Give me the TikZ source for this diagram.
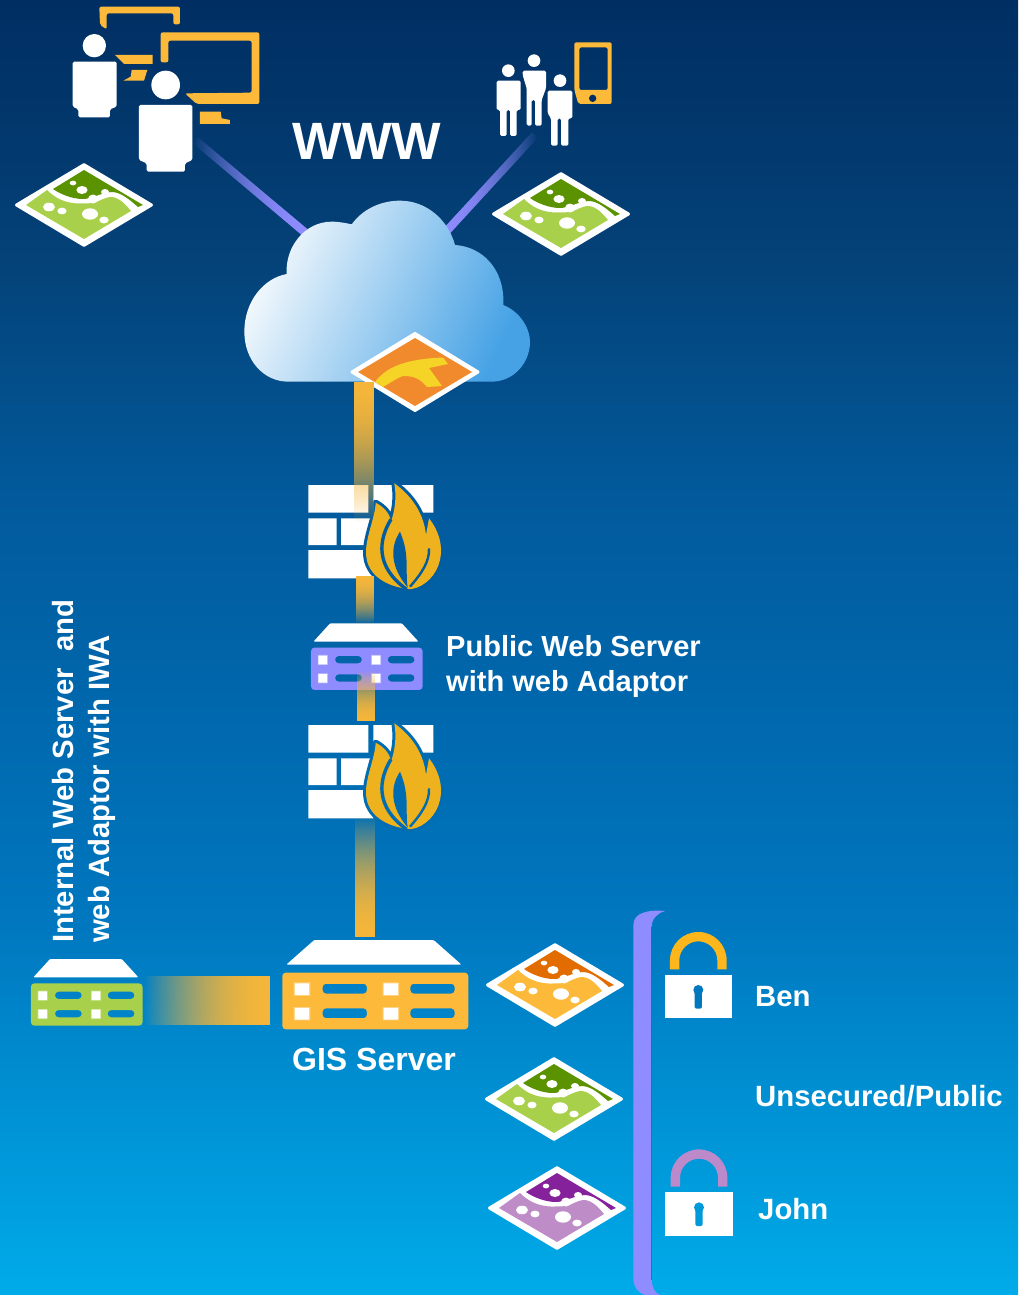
\documentclass[tikz,border=0pt]{standalone}
\usepackage{fontspec}
\setmainfont{Liberation Sans}
\usetikzlibrary{fadings,calc}
\definecolor{bgA}{HTML}{002E62}
\definecolor{bgB}{HTML}{044278}
\definecolor{bgC}{HTML}{025A9C}
\definecolor{bgD}{HTML}{0069AF}
\definecolor{bgE}{HTML}{0078C0}
\definecolor{bgF}{HTML}{0088CC}
\definecolor{bgG}{HTML}{00ABE9}
\definecolor{gold}{HTML}{FDB93A}
\definecolor{barcol}{HTML}{F5B63A}
\definecolor{flamecol}{HTML}{EFB21F}
\definecolor{violetcol}{HTML}{8F8CFF}
\definecolor{grnD}{HTML}{5A9200}
\definecolor{grnL}{HTML}{A9D04A}
\definecolor{orgD}{HTML}{E36C00}
\definecolor{orgL}{HTML}{FDB93A}
\definecolor{purD}{HTML}{85219A}
\definecolor{purL}{HTML}{BE8CC6}
\definecolor{cloudO}{HTML}{F08A2C}
\definecolor{cloudY}{HTML}{F5D327}
\definecolor{cloudA}{HTML}{F6FAFD}
\definecolor{cloudB}{HTML}{46A2E5}
\definecolor{lockG}{HTML}{FDB71C}
\definecolor{lockP}{HTML}{BC8ACB}
\pgfdeclareverticalshading{bgshade}{100bp}{
 color(0bp)=(bgG); color(25bp)=(bgG); color(34.85bp)=(bgF); color(39.1bp)=(bgE);
 color(46.8bp)=(bgD); color(55.7bp)=(bgC); color(64.96bp)=(bgB); color(75bp)=(bgA); color(100bp)=(bgA)}
\tikzfading[name=fadeToBottom, top color=transparent!0, middle color=transparent!65, bottom color=transparent!100]
\tikzfading[name=fadeToTop, bottom color=transparent!0, middle color=transparent!65, top color=transparent!100]
\tikzfading[name=fadeToLeft, right color=transparent!0, middle color=transparent!65, left color=transparent!100]
\tikzfading[name=linkToRight, left color=transparent!0, middle color=transparent!70, right color=transparent!100]
\tikzfading[name=linkToLeft, right color=transparent!0, middle color=transparent!70, left color=transparent!100]
\tikzset{
 txt/.style={text=white, inner sep=0pt, font=\fontsize{29.3}{33}\selectfont\bfseries},
 pubtxt/.style={txt, font=\fontsize{29.05}{33}\selectfont\bfseries},
 barstyle/.style={fill=barcol},
 linkstyle/.style={fill=violetcol},
 brick/.style={fill=white},
 personfill/.style={fill=white, rounded corners=1.5pt},
 goldfill/.style={fill=gold}
}
% faded bar between two named corners: first corner, second corner, fading
\newcommand\barlink[3]{%
 \fill[barstyle,path fading=#3] (#1) rectangle (#2);
 \fill[barstyle,path fading=#3] (#1) rectangle (#2);}
% faded slanted link between two named ends: from, to, fading
\newcommand\slantlink[3]{%
 \foreach \rep in {1,2}{
  \fill[linkstyle,path fading=#3] ($(#1)!4pt!90:(#2)$) -- ($(#1)!4pt!-90:(#2)$) -- ($(#2)!4pt!90:(#1)$) -- ($(#2)!4pt!-90:(#1)$) -- cycle;}}
% map tile: name, x, y, dark, light
\newcommand\maptile[5]{%
 \coordinate (#1) at (#2,#3);
 \begin{scope}[shift={(#2,#3)}]
  \filldraw[white, line width=3pt, line join=round] (-67.5,0)--(0,-40.3)--(67.5,0)--(0,40.3)--cycle;
  \fill[#4] (-31,-16) .. controls (-24,-11) and (-12,-6) .. (-1,-6) .. controls (8,-6) and (18,-13) .. (29,-13) .. controls (38,-12) and (46,-5) .. (54,2) -- (59,0) -- (0,-35) -- cycle;
  \fill[#5] (-58,0) -- (-37,-15) .. controls (-28,-6) and (-18,-2) .. (-6,-1.5) .. controls (-2,-1.5) and (4,-1.5) .. (9,-2) .. controls (15,-3) and (20,-8) .. (28,-8) .. controls (36,-7) and (42,0) .. (47,6) -- (0,34) -- cycle;
  \fill[white] (-35,2) circle[x radius=6,y radius=4.3] (-22,6) circle[x radius=4.6,y radius=3.4]
    (6,9) circle[x radius=8,y radius=5.7] (20,15) circle[x radius=4.7,y radius=3.4]
    (-11,-22) circle[x radius=3.3,y radius=2.4] (-2,-15) circle[x radius=5.6,y radius=4]
    (21,-13) circle[x radius=4,y radius=3] (9,-6) circle[x radius=5,y radius=4.5];
 \end{scope}}
% server: name, centre x, top y, xscale, yscale, colour
\newcommand\serverbox[6]{%
 \coordinate (#1) at (#2,#3);
 \begin{scope}[shift={(#2,#3)},xscale=#4/3,yscale=#5/3]
  \fill[white,rounded corners=1pt] (-110,0)--(105,0)--(155,55)--(-160,55)--cycle;
  \fill[#6,even odd rule,rounded corners=3.5pt] (-167.5,73) rectangle (167.5,200)
    (-95,98) rectangle (-15,120) (63,98) rectangle (143,120)
    (-95,153) rectangle (-15,175) (63,153) rectangle (143,175);
  \fill[white,opacity=.35] (-147,95) rectangle (-117,125) (13,95) rectangle (43,125)
    (-147,150) rectangle (-117,180) (13,150) rectangle (43,180);
  \fill[white] (-145,97) rectangle (-119,123) (15,97) rectangle (41,123)
    (-145,152) rectangle (-119,178) (15,152) rectangle (41,178);
 \end{scope}}
% firewall: name, y offset, local background
\newcommand\firewallicon[3]{%
 \coordinate (#1) at (372,{536+#2});
 \begin{scope}[shift={(280,470+#2)},scale=1/3]
  \fill[brick] (85,45) rectangle (265,128) (280,45) rectangle (460,128)
     (85,145) rectangle (170,225) (183,145) rectangle (285,225) (85,240) rectangle (280,325);
 \end{scope}
 \begin{scope}[shift={(355,480+#2)},scale=1/3]
  \path[draw=#3,line width=6pt,line join=round,fill=#3,
        save path=\flamepath] (118,10) .. controls (160,40) and (205,90) .. (213,165) -- (222,115)
     .. controls (250,150) and (265,195) .. (255,240) .. controls (245,285) and (210,320) .. (170,327) -- (160,327)
     .. controls (100,320) and (35,290) .. (33,220) .. controls (32,170) and (60,115) .. (62,68)
     .. controls (85,80) and (105,100) .. (108,125) .. controls (120,90) and (125,50) .. (118,10) -- cycle;
  \fill[flamecol,use path=\flamepath];
  \draw[#3,line width=3.4pt] (108,118) .. controls (70,180) and (60,260) .. (155,328);
  \fill[#3] (135,155) .. controls (105,200) and (105,260) .. (158,322) .. controls (150,270) and (165,225) .. (135,155) -- cycle;
  \draw[#3,line width=2.4pt] (222,205) .. controls (224,245) and (200,280) .. (165,320);
 \end{scope}}
% padlock: name, x, y (shackle foot), colour, keyhole colour
\newcommand\padlock[5]{%
 \coordinate (#1) at (#2,#3);
 \begin{scope}[shift={(#2,#3)},scale=1/3]
  \fill[#4] (-85,0) -- (-85,-27) .. controls (-85,-74) and (-47,-112) .. (0,-112) .. controls (47,-112) and (85,-74) .. (85,-27) -- (85,0)
   -- (57,0) -- (57,-27) .. controls (57,-58) and (31,-84) .. (0,-84) .. controls (-31,-84) and (-57,-58) .. (-57,-27) -- (-57,0) -- cycle;
  \fill[white] (-101,17) rectangle (101,147);
  \fill[#5] (0,62) circle[radius=15];
  \fill[#5,rounded corners=2pt] (-11,62) rectangle (11,118);
 \end{scope}}
\begin{document}
\begin{tikzpicture}[x=1pt,y=-1pt]
\useasboundingbox (0,0) rectangle (1018,1295);
\shade[shading=bgshade] (0,0) rectangle (1018,1295);

% links from the desktop and mobile users to the cloud
\coordinate (linkA1) at (195,140);
\coordinate (linkA2) at (308,235);
\coordinate (linkB1) at (535,135);
\coordinate (linkB2) at (443,235);
\slantlink{linkA1}{linkA2}{linkToLeft}
\slantlink{linkB1}{linkB2}{linkToRight}

% desktop users
\coordinate (desktop) at (130,90);
\begin{scope}[scale=1/3]
 \fill[goldfill,rounded corners=2pt] (298,20) -- (540,20) -- (540,73) -- (520,73) -- (520,40) -- (320,40) -- (320,88) -- (300,75) -- cycle;
 \fill[goldfill] (345,165) -- (458,165) -- (458,192) -- (372,192) -- (360,180) -- cycle;
 \fill[goldfill] (395,210) -- (442,210) -- (432,242) -- (370,242) -- (392,230) -- cycle;
 \fill[goldfill,rounded corners=2pt] (482,97) -- (778,97) -- (778,312) -- (590,312) -- (555,280) -- (755,278) -- (755,122) -- (505,122) -- (505,187) -- (482,187) -- cycle;
 \fill[goldfill] (600,335) -- (662,335) -- (665,355) -- (690,360) -- (690,372) -- (600,372) -- cycle;
 \fill[white] (283,137) circle[radius=35];
 \fill[personfill] (218,185) -- (350,185) -- (350,320) -- (330,328) -- (330,352) -- (235,352) -- (235,328) -- (218,320) -- cycle;
 \fill[white] (497,255) circle[radius=43];
 \fill[personfill] (417,315) -- (577,315) -- (577,480) -- (555,490) -- (555,515) -- (440,515) -- (440,490) -- (417,480) -- cycle;
\end{scope}
% mobile users
\coordinate (mobile) at (555,95);
\begin{scope}[shift={(480,30)},scale=1/3]
 \fill[white] (85,122) circle[radius=19] (162,92) circle[radius=19] (240,152) circle[radius=19];
 \fill[personfill] (50,152) -- (122,152) -- (122,240) -- (110,240) -- (110,318) -- (90,318) -- (90,240) -- (80,240) -- (80,318) -- (60,318) -- (60,240) -- (50,240) -- cycle;
 \fill[personfill] (128,122) -- (198,122) -- (198,175) -- (185,210) -- (185,287) -- (165,287) -- (165,210) -- (155,210) -- (155,287) -- (140,287) -- (140,175) -- (128,135) -- cycle;
 \fill[personfill] (203,182) -- (277,182) -- (277,265) -- (265,265) -- (265,347) -- (243,347) -- (243,265) -- (233,265) -- (233,347) -- (213,347) -- (213,265) -- (203,250) -- cycle;
 \fill[goldfill,even odd rule,rounded corners=2pt] (283,37) -- (395,37) -- (395,222) -- (295,222) -- (283,180) -- cycle
   (298,52) -- (383,52) -- (383,180) -- (298,180) -- cycle;
 \fill[bgA] (338,205) circle[radius=11];
\end{scope}
\maptile{mapA}{84}{205}{grnD}{grnL}
\maptile{mapB}{561}{214}{grnD}{grnL}

% cloud
\coordinate (cloud) at (386,290);
\begin{scope}[shift={(235,190)},scale=1/3]
\shade[left color=cloudA,right color=cloudB,shading angle=65]
 (160,575) .. controls (85,575) and (28,510) .. (28,425)
 .. controls (28,335) and (85,265) .. (155,252)
 .. controls (150,170) and (210,95) .. (290,95)
 .. controls (315,95) and (335,100) .. (350,103)
 .. controls (385,55) and (440,32) .. (495,32)
 .. controls (575,32) and (640,90) .. (660,165)
 .. controls (740,170) and (810,235) .. (805,345)
 .. controls (855,365) and (885,415) .. (885,455)
 .. controls (885,520) and (835,575) .. (770,575) -- cycle;
\end{scope}
% cloud tile
\coordinate (cloudtile) at (415,372);
\begin{scope}[shift={(415,372)}]
 \filldraw[white,line width=3pt,line join=round] (-63,0)--(0,-38.5)--(63,0)--(0,38.5)--cycle;
 \fill[cloudO] (-57,0)--(0,-34)--(57,0)--(0,34)--cycle;
 \fill[cloudY] (-40,10) .. controls (-28,-6) and (-8,-13) .. (28,-14.5) -- (33,-8) -- (14,-4) -- (27,14) -- (12,15) .. controls (5,7) and (0,4) .. (-12,4) .. controls (-18,6) and (-25,11) .. (-32,15) -- cycle;
\end{scope}

% firewalls
\firewallicon{fwA}{0}{bgC!80!bgD}
\firewallicon{fwB}{240}{bgD!80!bgE}

% servers
\serverbox{webserver}{366.8}{623.3}{1}{1}{violetcol}
\serverbox{gisserver}{375.3}{940}{1.666}{1.34}{orgL}
\serverbox{iwaserver}{86.7}{959}{1}{1}{grnL}

% bars between the parts
\coordinate (barA1) at (354,382); \coordinate (barA2) at (374,522);
\coordinate (barB1) at (356,576); \coordinate (barB2) at (374,624);
\coordinate (barC1) at (357,670); \coordinate (barC2) at (375,721);
\coordinate (barD1) at (355,815); \coordinate (barD2) at (375,937);
\coordinate (barE1) at (143,976); \coordinate (barE2) at (270,1025);
\barlink{barA1}{barA2}{fadeToBottom}
\barlink{barB1}{barB2}{fadeToBottom}
\barlink{barC1}{barC2}{fadeToTop}
\barlink{barD1}{barD2}{fadeToTop}
\barlink{barE1}{barE2}{fadeToLeft}

% service tiles and bracket
\maptile{mapOrange}{555}{985}{orgD}{orgL}
\maptile{mapGreen}{554}{1099}{grnD}{grnL}
\maptile{mapPurple}{557}{1208}{purD}{purL}
\begin{scope}[shift={(480,910)},scale=1/3]
 \coordinate (bracket) at (487,570);
 \fill[violetcol] (555,3) .. controls (500,-2) and (460,10) .. (460,45) -- (460,1105) .. controls (460,1130) and (475,1150) .. (495,1155)
   -- (540,1155) .. controls (525,1150) and (515,1130) .. (515,1110) -- (515,50) .. controls (515,25) and (535,8) .. (555,3) -- cycle;
 \draw[bgC,opacity=.6,line width=0.8pt] (515,1110) -- (515,50);
\end{scope}
\padlock{lockBen}{698.3}{969.3}{lockG}{bgE}
\padlock{lockJohn}{699}{1186.7}{lockP}{bgF!50!bgG}

% labels
\node[txt,anchor=base,font=\fontsize{52.5}{56}\selectfont\bfseries] (www) at (367,159) {WWW};
\node[pubtxt,anchor=base west] (pub1) at (446,656) {Public Web Server};
\node[pubtxt,anchor=base west] (pub2) at (446,691) {with web Adaptor};
\node[txt,anchor=base,font=\fontsize{32}{36}\selectfont\bfseries] (gis) at (374,1070) {GIS Server};
\node[txt,anchor=base west] (ben) at (755,1006) {Ben};
\node[txt,anchor=base west] (open) at (755,1106) {Unsecured/Public};
\node[txt,anchor=base west] (john) at (758,1219) {John};
\node[txt,anchor=base west,rotate=90] (iwa1) at (73,943) {Internal Web Server\ \ and};
\node[txt,anchor=base west,rotate=90] (iwa2) at (109,943) {web Adaptor with IWA};
\end{tikzpicture}
\end{document}
